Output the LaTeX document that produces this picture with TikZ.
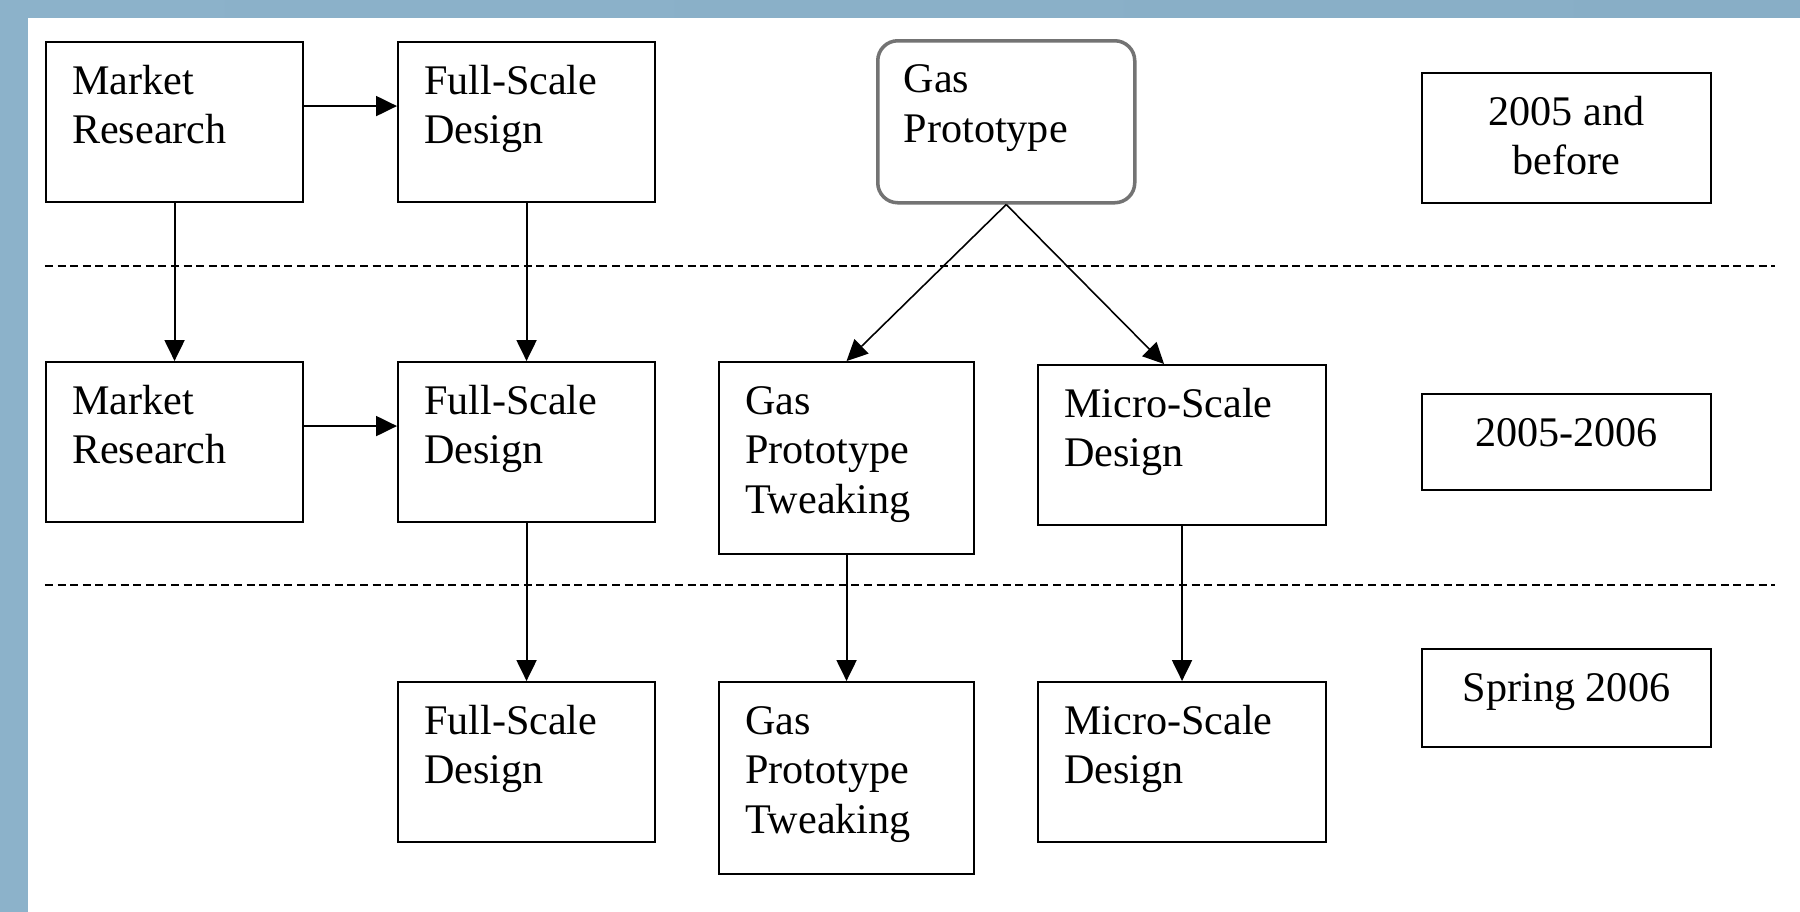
\documentclass[tikz,border=0pt]{standalone}
\usepackage{fontspec}
\setmainfont{Liberation Serif}
\usepackage{tikz}
\usetikzlibrary{arrows.meta}
\definecolor{frameblue}{HTML}{8CB2CA}
\definecolor{framelight}{HTML}{A9C5D6}
\definecolor{framedark}{HTML}{88AEC6}
\tikzstyle{stagebox} = [draw=black, line width=0.6pt, rectangle, inner xsep=0.26cm, inner ysep=0pt, anchor=north west]
\tikzstyle{protobox} = [stagebox, draw=black!55, line width=1pt, rounded corners=0.2cm]
\tikzstyle{datebox} = [stagebox, inner xsep=0pt]
\tikzstyle{flow} = [-{Triangle[length=2.1mm,width=2mm]}, line width=0.6pt]
\tikzstyle{divider} = [line width=0.5pt, dash pattern=on 0.08cm off 0.046cm]
\newcommand{\stagetext}[3]{\begin{minipage}[t][#2][t]{#1}\rule{0pt}{0.52cm}#3\end{minipage}}
\newcommand{\datetext}[3]{\begin{minipage}[t][#2][t]{#1}\centering\rule{0pt}{0.52cm}#3\end{minipage}}

\begin{document}
\begin{tikzpicture}[font=\fontsize{12pt}{14.2pt}\selectfont]
        \useasboundingbox (0,0) rectangle (18,-9.12);
        % frame
        \fill[frameblue] (0,0) rectangle (18,-9.12);
        \shade[left color=frameblue, middle color=framelight, right color=framedark] (0,0) rectangle (18,-0.18);
        \fill[white] (0.28,-0.18) rectangle (18,-9.12);

        % 2005 and before
        \node [stagebox] (mr1) at (0.45,-0.41) {\stagetext{2.05cm}{1.6cm}{Market\\Research}};
        \node [stagebox] (fs1) at (3.97,-0.41) {\stagetext{2.05cm}{1.6cm}{Full-Scale\\Design}};
        \node [protobox] (gp) at (8.76,-0.39) {\stagetext{2.05cm}{1.62cm}{Gas\\Prototype}};
        \node [datebox] (lab1) at (14.21,-0.72) {\datetext{2.89cm}{1.3cm}{2005 and\\before}};

        \draw[divider] (0.45,-2.66) -- (17.75,-2.66);

        % 2005-2006
        \node [stagebox] (mr2) at (0.45,-3.61) {\stagetext{2.05cm}{1.6cm}{Market\\Research}};
        \node [stagebox] (fs2) at (3.97,-3.61) {\stagetext{2.05cm}{1.6cm}{Full-Scale\\Design}};
        \node [stagebox] (gpt2) at (7.18,-3.61) {\stagetext{2.03cm}{1.92cm}{Gas\\Prototype\\Tweaking}};
        \node [stagebox] (ms2) at (10.37,-3.64) {\stagetext{2.36cm}{1.6cm}{Micro-Scale\\Design}};
        \node [datebox] (lab2) at (14.21,-3.93) {\datetext{2.89cm}{0.96cm}{2005-2006}};

        \draw[divider] (0.45,-5.85) -- (17.75,-5.85);

        % Spring 2006
        \node [stagebox] (fs3) at (3.97,-6.81) {\stagetext{2.05cm}{1.6cm}{Full-Scale\\Design}};
        \node [stagebox] (gpt3) at (7.18,-6.81) {\stagetext{2.03cm}{1.92cm}{Gas\\Prototype\\Tweaking}};
        \node [stagebox] (ms3) at (10.37,-6.81) {\stagetext{2.36cm}{1.6cm}{Micro-Scale\\Design}};
        \node [datebox] (lab3) at (14.21,-6.48) {\datetext{2.89cm}{0.98cm}{Spring 2006}};

        % connectors
        \draw[flow] ([yshift=0.16cm]mr1.east) -- ([yshift=0.16cm]fs1.west);
        \draw[flow] ([yshift=0.16cm]mr2.east) -- ([yshift=0.16cm]fs2.west);
        \draw[flow] (mr1.south) -- (mr2.north);
        \draw[flow] (fs1.south) -- (fs2.north);
        \draw[flow] (fs2.south) -- (fs3.north);
        \draw[flow, line width=0.45pt] (gp.south) -- (gpt2.north);
        \draw[flow, line width=0.45pt] (gp.south) -- ([xshift=-0.18cm]ms2.north);
        \draw[flow] (gpt2.south) -- (gpt3.north);
        \draw[flow] (ms2.south) -- (ms3.north);
    \end{tikzpicture}
\end{document}
